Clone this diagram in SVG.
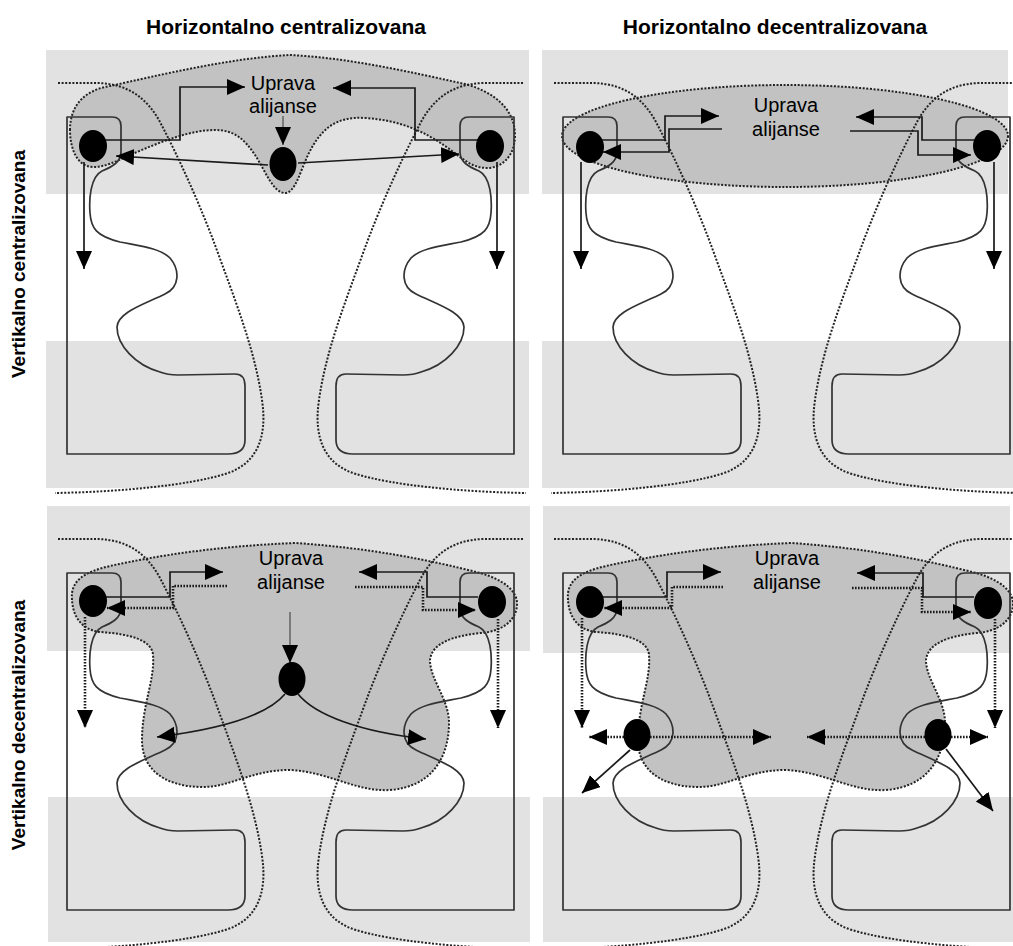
<svg xmlns="http://www.w3.org/2000/svg" width="1013" height="946" viewBox="0 0 1013 946">
<style>
  .band{fill:#e2e2e2}
  .zone{fill:#c2c2c2;stroke:#222;stroke-width:2;stroke-dasharray:2 1.6}
  .org{fill:none;stroke:#333;stroke-width:1.7;stroke-linejoin:round}
  .bound{fill:none;stroke:#222;stroke-width:2;stroke-dasharray:2 1.6}
  .flow{fill:none;stroke:#1a1a1a;stroke-width:1.7;marker-end:url(#head)}
  .thin{stroke:#555;stroke-width:1.3}
  .dot{stroke-width:2.6;stroke-dasharray:1.6 1.4}
  .node{fill:#000}
  .lbl{font-family:"Liberation Sans",Arial,sans-serif;font-size:20px;fill:#000;text-anchor:middle}
  .hdr{font-weight:bold;font-size:21px}
  .side{font-weight:bold;font-size:19px}
</style>
<defs>
  <marker id="head" markerUnits="userSpaceOnUse" markerWidth="19" markerHeight="18" refX="18" refY="8" orient="auto" viewBox="0 0 19 18">
    <path d="M0,0 L18,8 L0,16 Z" fill="#000"/>
  </marker>
  <!-- solid outline of the left partner organisation -->
  <path id="orgL" class="org" d="M67,454 L67,117 L112,117 Q121,117 121,126 L121,152 C121,162 112,167 102,171 C90,177 89,200 90,213 C91,228 96,236 120,242 C140,246 160,248 170,258 C180,270 180,287 165,294 C145,304 118,312 117,327 C117,345 135,365 160,372 C165,374 170,375 178,375 L235,374 Q245,374 245,386 L245,440 Q245,454 228,454 Z"/>
  <!-- dotted boundary of the left partner organisation -->
  <path id="bndL" class="bound" d="M58,83 L98,83 C130,84 148,100 160,122 C180,160 200,205 215,245 C235,300 255,350 262,400 C268,440 255,465 225,474 C190,485 120,492 55,493"/>
  <g id="frame">
    <use href="#orgL"/>
    <use href="#orgL" transform="translate(581,0) scale(-1,1)"/>
    <use href="#bndL"/>
    <use href="#bndL" transform="translate(581,0) scale(-1,1)"/>
  </g>
</defs>

<!-- column and row headings -->
<g id="headings" class="lbl">
  <text class="hdr" x="286" y="34">Horizontalno centralizovana</text>
  <text class="hdr" x="775" y="34">Horizontalno decentralizovana</text>
  <text class="side" transform="translate(25,264) rotate(-90)">Vertikalno centralizovana</text>
  <text class="side" transform="translate(25,725) rotate(-90)">Vertikalno decentralizovana</text>
</g>

<!-- panel: horizontally and vertically centralised -->
<g id="panel-hc-vc">
  <rect class="band" x="46" y="50" width="483" height="144"/>
  <rect class="band" x="46" y="341" width="483" height="147"/>
  <path class="zone" d="M70,130 C70,105 85,90 110,86 C160,75 230,58 290,55 C350,58 410,72 465,84 C495,92 515,110 515,135 C515,158 500,168 487,168 C470,168 460,156 445,146 C425,132 400,120 365,118 C335,116 320,130 308,155 C300,172 295,193 285,193 C273,193 265,170 255,155 C245,140 235,130 215,130 C190,130 160,142 130,155 C115,162 105,167 93,167 C78,167 70,150 70,130 Z"/>
  <use href="#frame"/>
  <g id="connectors-hc-vc">
    <path class="flow" d="M105,140 L180,140 L180,87 L245,87"/>
    <path class="flow" d="M478,140 L415,140 L415,88 L333,88"/>
    <path class="flow thin" d="M283,116 L283,145"/>
    <path class="flow" d="M268,165 L116,156"/>
    <path class="flow" d="M298,163 L459,154"/>
    <path class="flow" d="M84,162 L84,269"/>
    <path class="flow" d="M497,162 L497,269"/>
  </g>
  <g id="hc-vc-partner-a"><ellipse class="node" cx="93" cy="146" rx="14" ry="16"/></g>
  <g id="hc-vc-partner-b"><ellipse class="node" cx="490" cy="146" rx="14" ry="16"/></g>
  <g id="hc-vc-hub"><ellipse class="node" cx="283" cy="164" rx="13.5" ry="17"/></g>
  <g id="hc-vc-management" class="lbl">
    <text x="283" y="90">Uprava</text>
    <text x="283" y="113">alijanse</text>
  </g>
</g>

<!-- panel: horizontally decentralised, vertically centralised -->
<g id="panel-hd-vc">
  <rect class="band" x="542" y="50" width="466" height="144"/>
  <rect class="band" x="542" y="341" width="471" height="147"/>
  <ellipse class="zone" cx="785" cy="136" rx="223" ry="51"/>
  <use href="#frame" transform="translate(496,0)"/>
  <g id="connectors-hd-vc">
    <path class="flow" d="M602,140 L665,140 L665,116 L719,116"/>
    <path class="flow" d="M722,129 L669,129 L669,152 L603,152"/>
    <path class="flow" d="M975,140 L922,140 L922,117 L856,117"/>
    <path class="flow" d="M850,131 L918,131 L918,155 L971,155"/>
    <path class="flow" d="M581,162 L581,269"/>
    <path class="flow" d="M994,162 L994,269"/>
  </g>
  <g id="hd-vc-partner-a"><ellipse class="node" cx="590" cy="147" rx="14" ry="16"/></g>
  <g id="hd-vc-partner-b"><ellipse class="node" cx="987" cy="146" rx="14" ry="16"/></g>
  <g id="hd-vc-management" class="lbl">
    <text x="786" y="112">Uprava</text>
    <text x="786" y="136">alijanse</text>
  </g>
</g>

<!-- panel: horizontally centralised, vertically decentralised -->
<g id="panel-hc-vd">
  <rect class="band" x="47" y="506" width="483" height="145"/>
  <rect class="band" x="48" y="797" width="482" height="145"/>
  <path id="zoneBottom" class="zone" d="M72,600 C70,580 85,572 110,566 C160,555 220,546 295,543 C370,548 430,560 480,573 C505,580 518,592 517,605 C516,622 500,632 480,633 C455,636 432,642 430,660 C430,680 450,700 449,725 C448,760 430,787 390,790 C355,792 330,772 290,770 C250,770 230,788 200,787 C165,786 142,770 142,740 C142,705 155,680 153,655 C152,640 130,634 100,632 C82,630 73,617 72,600 Z"/>
  <use href="#frame" transform="translate(0,456)"/>
  <g id="connectors-hc-vd">
    <path class="flow" d="M105,597 L170,597 L170,572 L223,572"/>
    <path class="flow dot" d="M227,586 L173,586 L173,608 L107,608"/>
    <path class="flow" d="M478,597 L427,597 L427,572 L359,572"/>
    <path class="flow dot" d="M355,587 L423,587 L423,610 L476,610"/>
    <path class="flow dot" d="M85,617 L85,728"/>
    <path class="flow dot" d="M498,619 L498,728"/>
    <path class="flow thin" d="M290,612 L290,663"/>
    <path class="flow" d="M285,694 C270,712 230,728 157,737"/>
    <path class="flow" d="M298,694 C315,715 360,732 426,739"/>
  </g>
  <g id="hc-vd-partner-a"><ellipse class="node" cx="93" cy="601" rx="14" ry="16"/></g>
  <g id="hc-vd-partner-b"><ellipse class="node" cx="492" cy="602" rx="14" ry="16"/></g>
  <g id="hc-vd-hub"><ellipse class="node" cx="292" cy="679" rx="13.5" ry="17"/></g>
  <g id="hc-vd-management" class="lbl">
    <text x="291" y="565">Uprava</text>
    <text x="291" y="589">alijanse</text>
  </g>
</g>

<!-- panel: horizontally and vertically decentralised -->
<g id="panel-hd-vd">
  <rect class="band" x="543" y="506" width="467" height="147"/>
  <rect class="band" x="543" y="797" width="470" height="145"/>
  <use href="#zoneBottom" transform="translate(496,0)"/>
  <use href="#frame" transform="translate(496,456)"/>
  <g id="connectors-hd-vd">
    <path class="flow" d="M602,597 L667,597 L667,572 L721,572"/>
    <path class="flow dot" d="M723,587 L672,587 L672,608 L604,608"/>
    <path class="flow" d="M974,597 L923,597 L923,573 L857,573"/>
    <path class="flow dot" d="M852,588 L922,588 L922,612 L971,612"/>
    <path class="flow dot" d="M582,618 L582,728"/>
    <path class="flow dot" d="M995,619 L995,728"/>
    <path class="flow dot" d="M624,737 L589,737"/>
    <path class="flow dot" d="M650,737 L771,737"/>
    <path class="flow dot" d="M925,737 L807,737"/>
    <path class="flow dot" d="M951,737 L988,737"/>
    <path class="flow" d="M630,750 L582,793"/>
    <path class="flow" d="M946,749 L993,811"/>
  </g>
  <g id="hd-vd-partner-a"><ellipse class="node" cx="590" cy="602" rx="14" ry="16"/></g>
  <g id="hd-vd-partner-b"><ellipse class="node" cx="988" cy="603" rx="14" ry="16"/></g>
  <g id="hd-vd-unit-a"><ellipse class="node" cx="637" cy="735" rx="13.5" ry="16"/></g>
  <g id="hd-vd-unit-b"><ellipse class="node" cx="938" cy="735" rx="13.5" ry="16"/></g>
  <g id="hd-vd-management" class="lbl">
    <text x="787" y="565">Uprava</text>
    <text x="787" y="589">alijanse</text>
  </g>
</g>
</svg>
